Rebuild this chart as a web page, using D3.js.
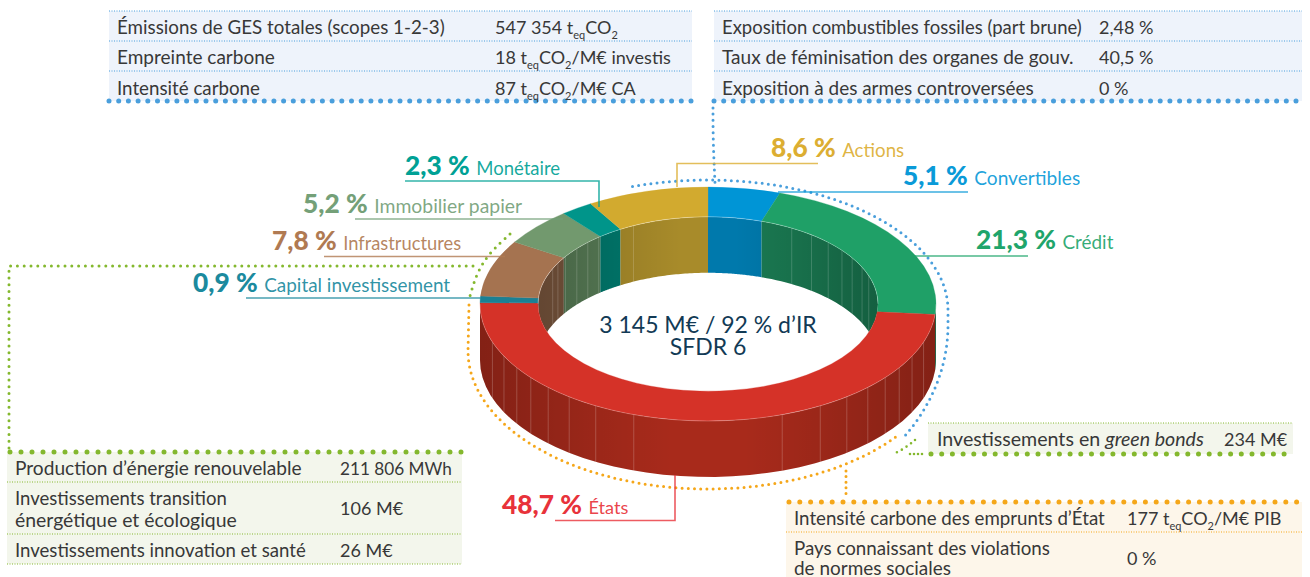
<!DOCTYPE html>
<html>
<head>
<meta charset="utf-8">
<script src="https://cdn.jsdelivr.net/npm/d3@7"></script>
<style>
  html, body { margin: 0; padding: 0; background: #fff; overflow: hidden; }
  text { font-family: Lato, "Noto Sans", sans-serif; }
</style>
</head>
<body>
<script>
// allocation, clockwise from 12 o'clock
var categories = ["Convertibles", "Crédit", "États", "Capital investissement", "Infrastructures", "Immobilier papier", "Monétaire", "Actions"];
var shares = [5.1, 21.3, 48.7, 0.9, 7.8, 5.2, 2.3, 8.6];
var shareLabels = ["5,1 %", "21,3 %", "48,7 %", "0,9 %", "7,8 %", "5,2 %", "2,3 %", "8,6 %"];

var topColors = ["#0095d6", "#1fa067", "#d53228", "#1a8094", "#a57350", "#72996e", "#00958a", "#d2aa2f"];
var wallColors = ["#0079ac", "#1a7a52", "#a82a1b", "#14687a", "#7f5a40", "#5a7f58", "#007a6e", "#a88b2a"];
var labelColors = ["#0a9ad8", "#1fa56b", "#e8323a", "#1b8a9e", "#b07a52", "#74a078", "#00a195", "#dcae32"];

// facet lines on the walls, degrees away from the bottom / top of the ring
var outerFacets = [19, 29.5, 37.5, 44.5, 51, 57, 63.5, 71];
var innerFacetsRight = [29.5, 37.5, 45, 52, 58, 65, 71];
var innerFacetsLeft = [26, 40, 45, 50.5, 57, 62, 66];

var ghgLabels = ["Émissions de GES totales (scopes 1-2-3)", "Empreinte carbone", "Intensité carbone"];
var ghgValues = ["547 354 t_{eq}CO_{2}", "18 t_{eq}CO_{2}/M€ investis", "87 t_{eq}CO_{2}/M€ CA"];
var esgLabels = ["Exposition combustibles fossiles (part brune)", "Taux de féminisation des organes de gouv.", "Exposition à des armes controversées"];
var esgValues = ["2,48 %", "40,5 %", "0 %"];
var greenLabels = [["Production d’énergie renouvelable"], ["Investissements transition", "énergétique et écologique"], ["Investissements innovation et santé"]];
var greenValues = ["211 806 MWh", "106 M€", "26 M€"];
var bondLabels = [["Investissements en ", "green bonds"]];
var bondValues = ["234 M€"];
var stateLabels = [["Intensité carbone des emprunts d’État"], ["Pays connaissant des violations", "de normes sociales"]];
var stateValues = ["177 t_{eq}CO_{2}/M€ PIB", "0 %"];

var width = 1310, height = 577;
var cx = 708, cy = 304, squash = 0.513;
var outerR = 228, innerR = 170, depth = 56;
var blue = "#4a9fdc", green = "#84b82e", orange = "#f5a71a", ink = "#383838";

var svg = d3.select("body").append("svg").attr("width", width).attr("height", height).style("display", "block");
var defs = svg.append("defs");

var pie = d3.pie().sort(null).value(function(d) { return d; })(shares);

// ring point for angle t (0 = top, clockwise), same convention as d3.arc
var px = function(r, t) { return cx + r * Math.sin(t); };
var py = function(r, t, dy) { return cy - r * squash * Math.cos(t) + (dy || 0); };

var band = function(r, a, b) {
  var ts = d3.range(0, 41).map(function(i) { return a + (b - a) * i / 40; });
  var upper = ts.map(function(t) { return [px(r, t), py(r, t)]; });
  var lower = ts.slice().reverse().map(function(t) { return [px(r, t), py(r, t, depth)]; });
  return d3.line()(upper.concat(lower)) + "Z";
};

defs.append("clipPath").attr("id", "hole").append("ellipse")
  .attr("cx", cx).attr("cy", cy).attr("rx", innerR).attr("ry", innerR * squash);

var shade = defs.append("linearGradient").attr("id", "edgeShade").attr("x1", 0).attr("x2", 1).attr("y1", 0).attr("y2", 0);
[[0, 0.22], [0.25, 0.08], [0.42, 0], [0.58, 0], [0.75, 0.08], [1, 0.22]].forEach(function(s) {
  shade.append("stop").attr("offset", s[0]).attr("stop-color", "#000").attr("stop-opacity", s[1]);
});

// outer wall, only the front half shows
var half = Math.PI / 2;
var outerWall = svg.append("g");
pie.forEach(function(d, i) {
  var a = Math.max(d.startAngle, half), b = Math.min(d.endAngle, 3 * half);
  if (b <= a) return;
  outerWall.append("path").attr("d", band(outerR, a, b)).attr("fill", wallColors[i]);
});
outerWall.append("path").attr("d", band(outerR, half, 3 * half)).attr("fill", "url(#edgeShade)");
outerFacets.forEach(function(f) {
  [Math.PI - f * Math.PI / 180, Math.PI + f * Math.PI / 180].forEach(function(t) {
    outerWall.append("line")
      .attr("x1", px(outerR, t)).attr("x2", px(outerR, t))
      .attr("y1", py(outerR, t)).attr("y2", py(outerR, t, depth))
      .attr("stroke", "#fff").attr("stroke-opacity", 0.25).attr("stroke-width", 0.8);
  });
});

// inner wall, back half seen through the hole
var innerWall = svg.append("g").attr("clip-path", "url(#hole)");
pie.forEach(function(d, i) {
  [[d.startAngle, d.endAngle], [d.startAngle - 2 * Math.PI, d.endAngle - 2 * Math.PI]].forEach(function(r) {
    var a = Math.max(r[0], -half), b = Math.min(r[1], half);
    if (b <= a) return;
    innerWall.append("path").attr("d", band(innerR, a, b)).attr("fill", wallColors[i]);
  });
});
innerWall.append("path").attr("d", band(innerR, -half, half)).attr("fill", "url(#edgeShade)");
innerFacetsRight.concat(innerFacetsLeft.map(function(f) { return -f; })).forEach(function(f) {
  var t = f * Math.PI / 180;
  innerWall.append("line")
    .attr("x1", px(innerR, t)).attr("x2", px(innerR, t))
    .attr("y1", py(innerR, t)).attr("y2", py(innerR, t, depth))
    .attr("stroke", "#fff").attr("stroke-opacity", 0.22).attr("stroke-width", 0.8);
});

// top face
var arc = d3.arc().innerRadius(innerR).outerRadius(outerR);
svg.append("g").attr("transform", "translate(" + cx + "," + cy + ") scale(1," + squash + ")")
  .selectAll("path").data(pie).enter().append("path")
  .attr("d", arc)
  .attr("fill", function(d, i) { return topColors[i]; })
  .attr("stroke", function(d, i) { return topColors[i]; })
  .attr("stroke-width", 0.4);

// thin highlight where top face meets the walls
var edge = function(r, a, b) {
  var ts = d3.range(0, 81).map(function(i) { return a + (b - a) * i / 80; });
  return d3.line()(ts.map(function(t) { return [px(r, t), py(r, t)]; }));
};
svg.append("path").attr("d", edge(outerR, half, 3 * half)).attr("fill", "none").attr("stroke", "#fff").attr("stroke-opacity", 0.3).attr("stroke-width", 0.8);
svg.append("path").attr("d", edge(innerR, -half, half)).attr("fill", "none").attr("stroke", "#fff").attr("stroke-opacity", 0.3).attr("stroke-width", 0.8);

// dotted ring arcs
var ell = function(c, ry, a, b) {
  var ts = d3.range(0, 61).map(function(i) { return a + (b - a) * i / 60; });
  return ts.map(function(t) { return [cx + 240 * Math.sin(t), c - ry * Math.cos(t)]; });
};
var dots = function(points, color, w, gap, curve) {
  return svg.append("path")
    .attr("d", d3.line().curve(curve || d3.curveLinear)(points))
    .attr("fill", "none").attr("stroke", color)
    .attr("stroke-width", w).attr("stroke-linecap", "round")
    .attr("stroke-dasharray", "0 " + gap);
};
dots(ell(310, 130, -0.32, half).concat(ell(325, 194, half, 2.18)), blue, 3, 6.2);
dots([[469, 305]].concat(ell(351, 138, 3 * half, 2.235)), orange, 3, 6.2);
dots([[713, 108], [713, 140], [715, 183]], blue, 3, 6.2, d3.curveBasis);
dots([[9, 448], [9, 266], [475, 266]], green, 3, 6.8);
dots([[510, 234], [490, 252], [477, 272], [470, 296]], green, 3, 6.8, d3.curveBasis);
dots([[915, 440], [904, 449], [893, 454]], green, 2.6, 5.4, d3.curveBasis);
dots([[910, 454], [926, 454]], green, 2.6, 4);
dots([[846, 471], [846, 494]], orange, 3, 5.6);

// leader lines and labels, w = label width in the reference
var leaders = [
  { i: 0, x1: 778, x2: 968, y: 192, text: 903, base: 185, w: 106 },
  { i: 1, x1: 915, x2: 1028, y: 256, text: 976, base: 248.5, w: 51 },
  { i: 2, x1: 555, x2: 675, y: 520.5, text: 502, base: 514, down: 475, w: 40 },
  { i: 3, x1: 246, x2: 481, y: 298, text: 193, base: 291.5, w: 186 },
  { i: 4, x1: 324, x2: 505, y: 256.5, text: 272, base: 250, w: 118 },
  { i: 5, x1: 355, x2: 563, y: 219, text: 303, base: 213, w: 148 },
  { i: 6, x1: 405, x2: 599, y: 181, text: 405, base: 174.5, down: 207, w: 84 },
  { i: 7, x1: 818, x2: 677, y: 163.5, text: 771, base: 156.5, down: 187, w: 62 }
];
leaders.forEach(function(l) {
  var pts = [[l.x1, l.y], [l.x2, l.y]];
  if (l.down) pts.push([l.x2, l.down]);
  svg.append("path").attr("d", d3.line()(pts)).attr("fill", "none")
    .attr("stroke", labelColors[l.i]).attr("stroke-opacity", 0.8).attr("stroke-width", 1.6);
  var t = svg.append("text").attr("x", l.text).attr("y", l.base).attr("fill", labelColors[l.i]);
  t.append("tspan").attr("font-size", 26.3).attr("font-weight", 900).text(shareLabels[l.i]);
  var name = t.append("tspan").attr("dx", 6.5).attr("font-size", 18).attr("fill-opacity", 0.92).text(categories[l.i]);
  name.attr("font-size", 18 * l.w / name.node().getComputedTextLength());
});

// centre text
svg.append("text").attr("x", cx).attr("y", 333).attr("text-anchor", "middle").attr("font-size", 23).attr("fill", "#123a55").text("3 145 M€ / 92 % d’IR");
svg.append("text").attr("x", cx).attr("y", 355).attr("text-anchor", "middle").attr("font-size", 23).attr("fill", "#123a55").text("SFDR 6");

// text with t_{eq}CO_{2} style subscripts
var rich = function(sel, str) {
  var back = 0;
  str.split(/(_\{[^}]*\})/).forEach(function(part) {
    if (!part) return;
    var m = part.match(/^_\{(.*)\}$/);
    if (m) {
      sel.append("tspan").attr("font-size", 11).attr("dy", 5.5).text(m[1]);
      back = -5.5;
    } else {
      sel.append("tspan").attr("dy", back).text(part);
      back = 0;
    }
  });
};

var hline = function(x1, x2, y, color) {
  svg.append("line").attr("x1", x1).attr("x2", x2).attr("y1", y).attr("y2", y)
    .attr("stroke", color).attr("stroke-width", 1).attr("stroke-dasharray", "1 1.5");
};
var bigDots = function(x1, x2, y, color, gap) {
  svg.append("line").attr("x1", x1).attr("x2", x2).attr("y1", y).attr("y2", y)
    .attr("stroke", color).attr("stroke-width", 5).attr("stroke-linecap", "round")
    .attr("stroke-dasharray", "0 " + gap);
};
// w = width the text takes in the reference, font size is scaled to reach it
var cell = function(x, y, str, w) {
  var t = svg.append("text").attr("x", x).attr("y", y).attr("font-size", 18).attr("fill", ink);
  rich(t, str);
  if (w) t.attr("font-size", 18 * w / t.node().getComputedTextLength());
  return t;
};

var rowY = [33.5, 63.5, 94.5];

// top left table
svg.append("rect").attr("x", 109).attr("y", 11).attr("width", 583).attr("height", 90).attr("fill", "#eef3fb");
[11, 41, 71].forEach(function(y) { hline(109, 692, y, blue); });
bigDots(109, 692, 101, blue, 9.7);
[328, 158, 143].forEach(function(w, i) {
  cell(117, rowY[i], ghgLabels[i], w);
  cell(495, rowY[i], ghgValues[i]);
});

// top right table
svg.append("rect").attr("x", 714).attr("y", 11).attr("width", 588).attr("height", 90).attr("fill", "#eef3fb");
[11, 41, 71].forEach(function(y) { hline(714, 1302, y, blue); });
bigDots(714, 1302, 101, blue, 9.7);
[360, 352, 312].forEach(function(w, i) {
  cell(722, rowY[i], esgLabels[i], w);
  cell(1099, rowY[i], esgValues[i]);
});

// green table, bottom left
svg.append("rect").attr("x", 7).attr("y", 452).attr("width", 455).attr("height", 112).attr("fill", "#f3f6ec");
[482, 534, 564].forEach(function(y) { hline(7, 462, y, green); });
bigDots(10, 462, 452, green, 11);
cell(15, 474.5, greenLabels[0][0], 287);
cell(15, 504.5, greenLabels[1][0], 212);
cell(15, 526.5, greenLabels[1][1], 222);
cell(15, 556.5, greenLabels[2][0], 291);
cell(340, 474.5, greenValues[0], 112);
cell(340, 515, greenValues[1]);
cell(340, 556.5, greenValues[2]);

// green bonds
svg.append("rect").attr("x", 928).attr("y", 423).attr("width", 365).attr("height", 31).attr("fill", "#f3f6ec");
hline(928, 1293, 423, green);
bigDots(931, 1293, 454, green, 10.7);
var bond = svg.append("text").attr("x", 937).attr("y", 446).attr("font-size", 19.6).attr("fill", ink);
bond.append("tspan").text(bondLabels[0][0]);
bond.append("tspan").attr("font-style", "italic").text(bondLabels[0][1]);
cell(1224, 446, bondValues[0]);

// orange table, bottom right
svg.append("rect").attr("x", 786).attr("y", 502).attr("width", 516).attr("height", 75).attr("fill", "#fdf6ea");
hline(786, 1302, 532, orange);
bigDots(789, 1302, 502, orange, 10.8);
cell(794, 524.5, stateLabels[0][0], 311);
cell(794, 554.5, stateLabels[1][0], 256);
cell(794, 574.5, stateLabels[1][1], 157);
cell(1127, 524.5, stateValues[0]);
cell(1127, 565, stateValues[1]);
</script>
</body>
</html>
